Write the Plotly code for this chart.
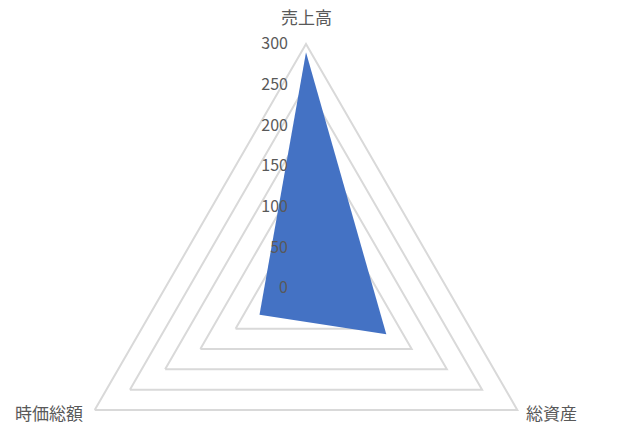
import math
import plotly.graph_objects as go

categories = ["売上高", "総資産", "時価総額"]
values = [290, 114, 66]
tick_vals = [0, 50, 100, 150, 200, 250, 300]
tick_text = ["0", "50", "100", "150", "200", "250", "300"]

W = 618
cx, cy, R = 306, 288, 244
H = cy + R  # figure taller than the window; the lower part of the circle is empty

theta = categories + [categories[0]]
r = values + [values[0]]

fig = go.Figure()
fig.add_trace(go.Scatterpolar(
    r=r, theta=theta, mode="lines", fill="toself",
    fillcolor="#4472C4", line=dict(color="#4472C4", width=0),
    hoverinfo="skip", showlegend=False,
))

# category labels placed just outside each vertex of the outer ring
label_font = dict(family="Noto Sans CJK JP, sans-serif", size=17, color="#595959")
annotations = []
for i, name in enumerate(categories):
    ang = math.radians(90 - 360 / len(categories) * i)
    vx = cx + R * math.cos(ang)
    vy = cy - R * math.sin(ang)
    if abs(math.cos(ang)) < 0.1:
        px, py, xa = vx, vy - 28, "center"
    elif math.cos(ang) > 0:
        px, py, xa = vx + 7, vy + 2, "left"
    else:
        px, py, xa = vx - 10, vy + 2, "right"
    annotations.append(dict(
        text=name, x=px / W, y=1 - py / H, xref="paper", yref="paper",
        xanchor=xa, yanchor="middle", showarrow=False, font=label_font,
    ))

fig.update_layout(
    width=W, height=H,
    margin=dict(l=0, r=0, t=0, b=0),
    paper_bgcolor="white",
    font=dict(family="Noto Sans CJK JP, sans-serif", color="#595959", size=15),
    annotations=annotations,
    polar=dict(
        domain=dict(x=[(cx - R) / W, (cx + R) / W], y=[0, 1 - (cy - R) / H]),
        gridshape="linear",
        bgcolor="white",
        radialaxis=dict(
            range=[0, 300], tickvals=tick_vals, ticktext=tick_text,
            angle=90, tickangle=90, side="counterclockwise",
            showline=False, ticks="outside", ticklen=12, tickcolor="rgba(0,0,0,0)",
            gridcolor="#D9D9D9", gridwidth=2,
            tickfont=dict(size=16, color="#595959"),
        ),
        angularaxis=dict(
            rotation=90, direction="clockwise", showgrid=False,
            showline=True, linecolor="#D9D9D9", linewidth=2,
            ticks="", showticklabels=False,
        ),
    ),
)

fig.write_html(
    "out.html",
    config={"displayModeBar": False},
    post_script=(
        "document.documentElement.style.overflow='hidden';"
        "document.body.style.overflow='hidden';"
        "document.body.style.margin='0';"
    ),
)
